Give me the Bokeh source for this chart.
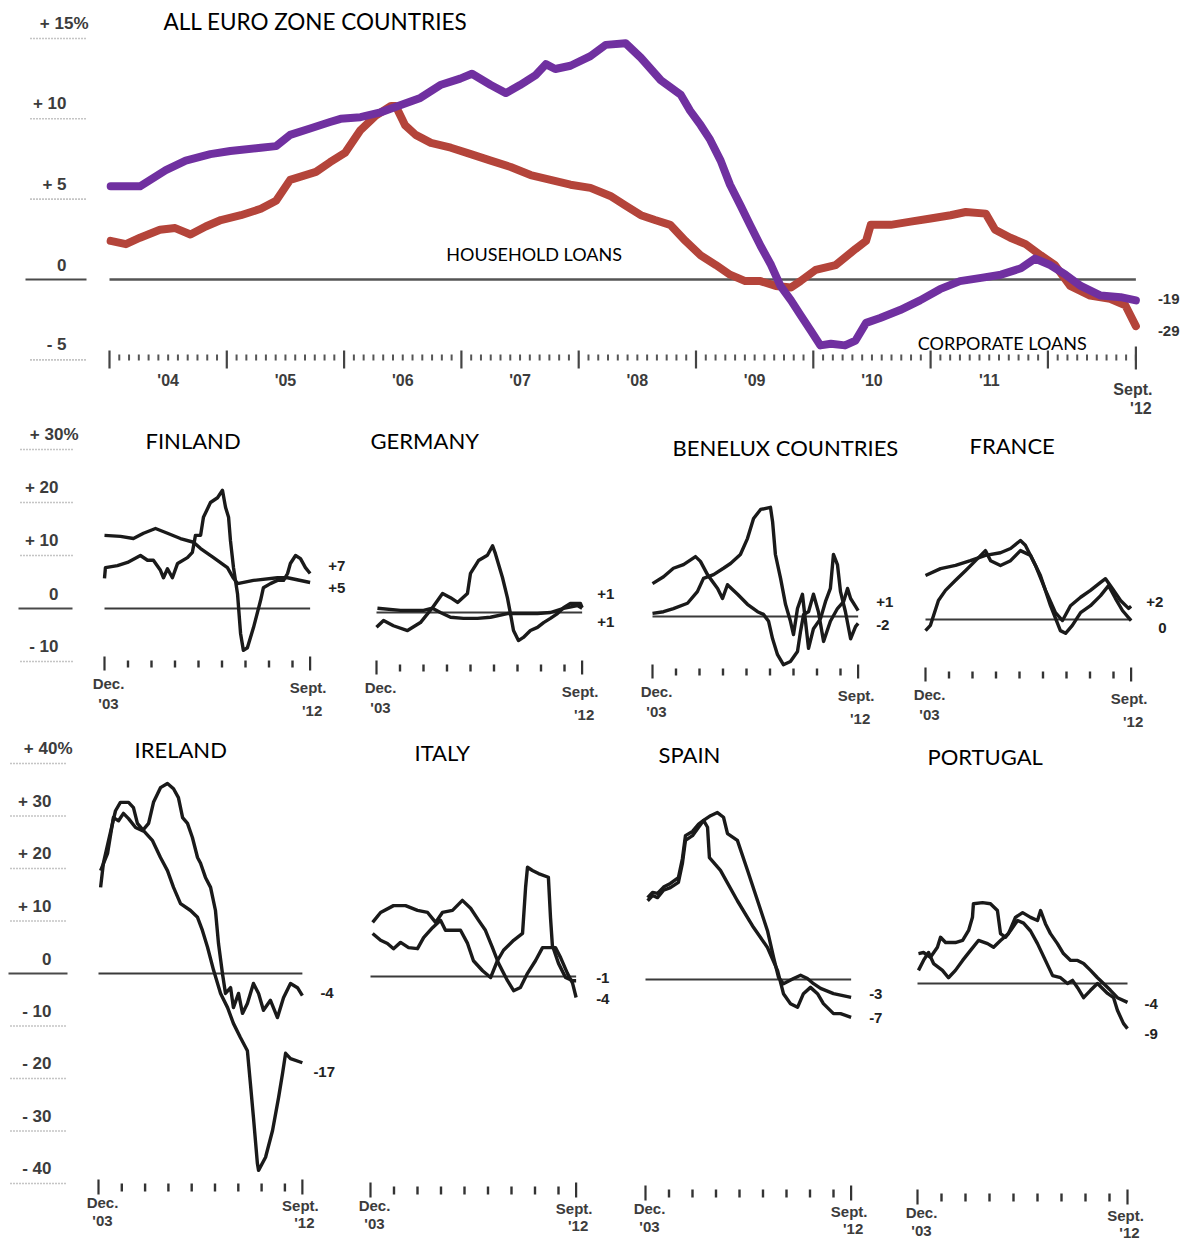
from bokeh.plotting import figure
from bokeh.layouts import column, row
from bokeh.models import Range1d
from bokeh.core.properties import value
from bokeh.embed import file_html
from bokeh.resources import INLINE

# ---------------- DATA (decimal years, % change) ----------------
EZ_CORP_T = [2004.01, 2004.26, 2004.48, 2004.65, 2004.86, 2005.03, 2005.29, 2005.42, 2005.54, 2005.71,
             2005.88, 2005.97, 2006.14, 2006.31, 2006.46, 2006.65, 2006.82, 2006.99, 2007.09, 2007.25,
             2007.38, 2007.50, 2007.63, 2007.72, 2007.80, 2007.93, 2008.10, 2008.23, 2008.40, 2008.53,
             2008.70, 2008.87, 2008.95, 2009.04, 2009.12, 2009.21, 2009.29, 2009.38, 2009.46, 2009.55,
             2009.64, 2009.72, 2009.81, 2009.89, 2009.98, 2010.06, 2010.15, 2010.27, 2010.36, 2010.45,
             2010.57, 2010.74, 2010.91, 2011.08, 2011.25, 2011.43, 2011.60, 2011.77, 2011.89, 2012.02,
             2012.15, 2012.28, 2012.45, 2012.62, 2012.75]
EZ_CORP_V = [5.8, 5.8, 6.8, 7.4, 7.8, 8.0, 8.2, 8.3, 9.0, 9.4,
             9.8, 10.0, 10.1, 10.4, 10.8, 11.3, 12.1, 12.5, 12.8, 12.1,
             11.6, 12.1, 12.7, 13.4, 13.1, 13.3, 13.9, 14.6, 14.7, 13.8,
             12.4, 11.5, 10.5, 9.6, 8.7, 7.4, 5.9, 4.6, 3.4, 2.1,
             0.9, -0.4, -1.3, -2.2, -3.2, -4.1, -4.0, -4.1, -3.8, -2.7,
             -2.4, -1.9, -1.3, -0.6, -0.1, 0.1, 0.3, 0.7, 1.3, 0.9,
             0.3, -0.4, -1.0, -1.1, -1.3]
EZ_HH_T = [2004.01, 2004.14, 2004.26, 2004.43, 2004.56, 2004.69, 2004.82, 2004.95, 2005.12, 2005.29,
           2005.42, 2005.54, 2005.63, 2005.76, 2005.88, 2006.01, 2006.14, 2006.27, 2006.40, 2006.44,
           2006.52, 2006.61, 2006.74, 2006.91, 2007.08, 2007.25, 2007.42, 2007.59, 2007.76, 2007.93,
           2008.10, 2008.27, 2008.40, 2008.53, 2008.65, 2008.78, 2008.91, 2009.04, 2009.17, 2009.29,
           2009.42, 2009.55, 2009.68, 2009.81, 2009.89, 2010.02, 2010.19, 2010.36, 2010.45, 2010.49,
           2010.66, 2010.83, 2011.00, 2011.17, 2011.30, 2011.47, 2011.55, 2011.68, 2011.81, 2011.94,
           2012.06, 2012.19, 2012.36, 2012.53, 2012.66, 2012.75]
EZ_HH_V = [2.4, 2.2, 2.6, 3.1, 3.2, 2.8, 3.3, 3.7, 4.0, 4.4,
           4.9, 6.2, 6.4, 6.7, 7.3, 7.9, 9.3, 10.2, 10.8, 10.8,
           9.6, 9.0, 8.5, 8.2, 7.8, 7.4, 7.0, 6.5, 6.2, 5.9,
           5.7, 5.2, 4.6, 4.0, 3.7, 3.4, 2.4, 1.5, 0.9, 0.3,
           -0.1, -0.1, -0.4, -0.5, -0.1, 0.6, 0.9, 1.9, 2.4, 3.4,
           3.4, 3.6, 3.8, 4.0, 4.2, 4.1, 3.1, 2.6, 2.2, 1.5,
           0.9, -0.4, -1.0, -1.2, -1.6, -2.9]
EZ_END_LABELS = ["-19", "-29"]

TOP_YTICKS = [15, 10, 5, 0, -5]
TOP_YLABELS = ["+ 15%", "+ 10", "+ 5", "0", "- 5"]
TOP_YEARS = [2004, 2005, 2006, 2007, 2008, 2009, 2010, 2011, 2012]
TOP_YEAR_LABELS = ["'04", "'05", "'06", "'07", "'08", "'09", "'10", "'11"]
TOP_END_T = 2012.75

ROW2_YTICKS = [30, 20, 10, 0, -10]
ROW2_YLABELS = ["+ 30%", "+ 20", "+ 10", "0", "- 10"]
ROW3_YTICKS = [40, 30, 20, 10, 0, -10, -20, -30, -40]
ROW3_YLABELS = ["+ 40%", "+ 30", "+ 20", "+ 10", "0", "- 10", "- 20", "- 30", "- 40"]
SMALL_START_T = 2003.92
SMALL_END_T = 2012.67

FIN_A_T = [2003.92, 2004.60, 2005.15, 2005.58, 2006.09, 2006.60, 2007.15, 2007.71, 2008.01, 2008.56,
           2009.15, 2009.41, 2009.58, 2010.26, 2011.28, 2011.71, 2012.67]
FIN_A_V = [13.8, 13.6, 13.2, 14.2, 15.1, 14.2, 13.2, 12.5, 11.3, 9.6, 7.7, 5.7, 4.7, 5.3, 5.8, 5.8, 4.9]
FIN_B_T = [2003.92, 2003.96, 2004.47, 2004.90, 2005.45, 2005.75, 2006.00, 2006.30, 2006.43, 2006.60,
           2006.81, 2007.03, 2007.45, 2007.66, 2007.79, 2008.01, 2008.13, 2008.43, 2008.73, 2008.94,
           2009.07, 2009.20, 2009.28, 2009.41, 2009.58, 2009.71, 2009.83, 2010.00, 2010.26, 2010.56,
           2010.68, 2010.98, 2011.28, 2011.54, 2011.71, 2011.83, 2012.05, 2012.26, 2012.47, 2012.67]
FIN_B_V = [5.7, 7.7, 8.1, 8.7, 10.0, 9.1, 9.1, 7.2, 5.8, 7.5,
           5.8, 8.5, 9.6, 10.6, 13.8, 13.8, 17.2, 20.0, 20.9, 22.3,
           19.1, 17.2, 12.8, 7.7, 2.8, -4.7, -7.9, -7.4, -3.6, 1.5,
           3.9, 4.7, 5.3, 5.3, 6.6, 8.5, 10.0, 9.4, 7.7, 6.6]

GER_A_T = [2003.92, 2004.22, 2004.64, 2005.24, 2005.79, 2006.30, 2006.73, 2007.07, 2007.37, 2007.79,
           2007.92, 2008.26, 2008.64, 2008.86, 2008.98, 2009.28, 2009.49, 2009.62, 2009.75, 2009.96,
           2010.17, 2010.47, 2010.77, 2011.03, 2011.32, 2011.62, 2011.88, 2012.17, 2012.60, 2012.67]
GER_A_V = [-2.8, -1.5, -2.5, -3.4, -1.9, 0.9, 3.6, 2.8, 1.9, 3.6,
           7.4, 9.8, 10.8, 12.6, 11.1, 6.6, 2.8, -0.2, -3.4, -5.3,
           -4.7, -3.4, -2.8, -1.9, -1.1, -0.2, 0.9, 1.7, 1.7, 0.9]
GER_B_T = [2003.96, 2004.94, 2005.92, 2006.30, 2006.64, 2007.07, 2007.62, 2008.22, 2008.77, 2009.49,
           2010.17, 2010.77, 2011.32, 2011.88, 2012.47, 2012.67]
GER_B_V = [0.8, 0.4, 0.4, 0.8, 0.0, -0.9, -1.1, -1.1, -0.9, -0.2, -0.2, -0.2, 0.0, 0.8, 1.3, 0.8]

BNL_A_T = [2003.92, 2004.39, 2004.81, 2005.24, 2005.75, 2005.96, 2006.26, 2006.69, 2006.90, 2007.11,
           2007.54, 2007.96, 2008.39, 2008.64, 2008.86, 2009.03, 2009.24, 2009.49, 2009.79, 2010.09,
           2010.22, 2010.35, 2010.56, 2010.77, 2010.98, 2011.20, 2011.49, 2011.79, 2012.05, 2012.22,
           2012.35, 2012.56, 2012.67]
BNL_A_V = [6.2, 7.5, 9.1, 9.8, 11.3, 10.4, 7.9, 5.3, 3.4, 6.0,
           4.2, 2.3, 0.9, 0.4, -0.9, -4.2, -7.2, -9.1, -8.5, -6.6,
           -2.8, 0.4, 0.9, 4.2, 0.9, -4.7, -0.9, 1.5, 2.8, 5.3,
           3.4, 1.9, 1.1]
BNL_B_T = [2003.92, 2004.39, 2004.81, 2005.41, 2005.83, 2006.09, 2006.52, 2006.94, 2007.24, 2007.66,
           2007.96, 2008.22, 2008.52, 2008.94, 2009.03, 2009.15, 2009.37, 2009.58, 2009.79, 2009.92,
           2010.09, 2010.30, 2010.43, 2010.56, 2010.77, 2011.07, 2011.28, 2011.49, 2011.62, 2011.79,
           2011.92, 2012.13, 2012.35, 2012.56, 2012.67]
BNL_B_V = [0.6, 0.9, 1.5, 2.5, 4.7, 7.2, 7.9, 9.1, 10.0, 11.7,
           14.7, 18.5, 20.2, 20.6, 17.9, 11.7, 7.2, 2.3, -0.9, -3.4,
           1.5, 4.2, -0.9, -6.0, -2.3, -0.4, 2.8, 5.3, 11.7, 9.8,
           4.7, 0.9, -4.2, -1.9, -1.3]

FRA_A_T = [2003.92, 2004.56, 2005.20, 2005.83, 2006.47, 2007.11, 2007.54, 2007.96, 2008.17, 2008.60,
           2009.03, 2009.45, 2009.75, 2010.09, 2010.52, 2010.94, 2011.37, 2011.58, 2011.88, 2012.22,
           2012.56, 2012.67]
FRA_A_V = [8.3, 9.6, 10.2, 11.1, 12.1, 12.6, 13.4, 14.9, 14.0, 10.2,
           5.5, 1.3, -0.2, 2.6, 4.2, 5.5, 7.0, 7.7, 5.8, 3.6, 2.1, 2.5]
FRA_B_T = [2003.92, 2004.13, 2004.47, 2004.77, 2005.20, 2005.62, 2006.05, 2006.47, 2006.69, 2007.11,
           2007.54, 2007.96, 2008.39, 2008.81, 2009.24, 2009.66, 2009.88, 2010.17, 2010.52, 2010.94,
           2011.37, 2011.71, 2012.00, 2012.30, 2012.67]
FRA_B_V = [-2.1, -1.1, 3.6, 5.5, 7.4, 9.2, 11.1, 13.0, 11.1, 10.2,
           11.1, 13.0, 12.1, 8.3, 2.6, -2.1, -2.6, -1.1, 1.3, 2.6,
           4.5, 6.4, 4.0, 1.7, -0.2]

IRL_A_T = [2004.01, 2004.13, 2004.35, 2004.65, 2004.86, 2005.21, 2005.42, 2005.59, 2005.85, 2006.24,
           2006.58, 2006.88, 2007.14, 2007.44, 2007.87, 2008.17, 2008.38, 2008.60, 2008.86, 2009.16,
           2009.46, 2009.71, 2010.01, 2010.31, 2010.44, 2010.57, 2010.74, 2010.79, 2011.09, 2011.39,
           2011.65, 2011.82, 2011.95, 2012.16, 2012.67]
IRL_A_V = [16.4, 21.0, 25.3, 31.0, 32.6, 32.6, 31.6, 28.6, 27.2, 25.3,
           22.1, 19.6, 16.4, 13.3, 12.0, 10.7, 8.2, 5.0, 0.6, -3.8,
           -6.5, -9.5, -12.2, -14.7, -21.0, -27.4, -36.2, -37.5, -35.0, -29.9,
           -23.6, -19.0, -15.2, -16.2, -17.0]
IRL_B_T = [2004.01, 2004.31, 2004.56, 2004.78, 2004.99, 2005.21, 2005.51, 2005.81, 2006.07, 2006.28,
           2006.58, 2006.88, 2007.14, 2007.35, 2007.53, 2007.74, 2007.95, 2008.17, 2008.30, 2008.51,
           2008.73, 2008.94, 2009.07, 2009.24, 2009.37, 2009.59, 2009.71, 2009.93, 2010.10, 2010.31,
           2010.57, 2010.79, 2011.00, 2011.30, 2011.60, 2011.86, 2012.16, 2012.46, 2012.67]
IRL_B_V = [19.6, 22.9, 29.7, 29.1, 30.5, 29.5, 27.8, 27.2, 28.6, 32.6,
           35.4, 36.2, 35.2, 33.5, 29.7, 28.6, 25.9, 22.1, 21.0, 18.3,
           16.4, 12.0, 5.7, 0.0, -3.8, -2.7, -6.5, -3.8, -7.6, -5.7,
           -1.9, -3.8, -7.0, -5.1, -8.4, -4.6, -1.9, -2.7, -4.2]

ITA_A_T = [2004.01, 2004.35, 2004.90, 2005.41, 2005.92, 2006.35, 2006.69, 2006.98, 2007.41, 2007.83,
           2008.18, 2008.52, 2008.81, 2009.11, 2009.37, 2009.75, 2010.01, 2010.30, 2010.60, 2010.94,
           2011.24, 2011.45, 2011.79, 2012.01, 2012.30, 2012.52, 2012.67]
ITA_A_V = [10.3, 12.2, 13.5, 13.5, 12.6, 12.2, 10.3, 12.2, 12.6, 14.5,
           13.0, 10.7, 8.8, 5.5, 2.5, -0.8, -2.7, -2.1, 0.6, 3.0,
           5.5, 5.5, 5.5, 3.6, 0.6, -1.3, -4.0]
ITA_B_T = [2004.01, 2004.35, 2004.64, 2004.90, 2005.20, 2005.54, 2005.92, 2006.18, 2006.56, 2006.90,
           2007.11, 2007.45, 2007.75, 2008.05, 2008.30, 2008.69, 2009.03, 2009.32, 2009.58, 2010.01,
           2010.39, 2010.52, 2010.60, 2010.81, 2011.07, 2011.49, 2011.58, 2011.66, 2011.92, 2012.22,
           2012.52, 2012.67]
ITA_B_V = [8.2, 6.9, 6.3, 5.3, 6.5, 5.5, 5.3, 7.4, 9.3, 10.7,
           8.8, 8.8, 8.8, 6.3, 3.0, 1.1, -0.2, 3.0, 5.0, 6.9,
           8.2, 17.0, 20.8, 20.2, 19.6, 18.9, 11.2, 5.9, 2.5, -0.2,
           -0.8, -0.8]

ESP_A_T = [2004.01, 2004.22, 2004.43, 2004.69, 2004.98, 2005.32, 2005.49, 2005.62, 2005.92, 2006.18,
           2006.39, 2006.56, 2006.64, 2007.11, 2007.83, 2008.52, 2009.11, 2009.54, 2009.79, 2010.09,
           2010.39, 2010.64, 2010.94, 2011.24, 2011.49, 2011.92, 2012.22, 2012.67]
ESP_A_V = [15.0, 16.0, 15.6, 17.0, 17.5, 18.5, 22.1, 26.5, 27.4, 29.0,
           30.3, 29.0, 23.2, 20.8, 15.0, 9.9, 6.1, 1.7, -2.7, -4.6,
           -5.3, -2.7, -1.5, -2.7, -4.6, -6.5, -6.5, -7.2]
ESP_B_T = [2004.01, 2004.22, 2004.43, 2004.69, 2004.98, 2005.32, 2005.49, 2005.62, 2005.92, 2006.18,
           2006.39, 2006.69, 2006.98, 2007.24, 2007.41, 2007.83, 2008.26, 2008.69, 2009.11, 2009.37,
           2009.58, 2009.79, 2010.22, 2010.52, 2010.81, 2011.07, 2011.37, 2011.92, 2012.67]
ESP_B_V = [15.6, 16.6, 16.4, 17.6, 18.3, 19.4, 23.0, 27.4, 28.2, 29.6,
           30.3, 31.2, 31.8, 30.9, 27.8, 26.5, 20.8, 15.0, 9.3, 4.2,
           0.4, -0.8, 0.2, 0.8, 0.2, -0.8, -1.7, -2.7, -3.4]

POR_A_T = [2003.96, 2004.17, 2004.46, 2004.75, 2004.88, 2005.09, 2005.50, 2005.80, 2006.05, 2006.21,
           2006.25, 2006.63, 2006.96, 2007.25, 2007.38, 2007.59, 2007.80, 2008.09, 2008.34, 2008.63,
           2008.92, 2009.25, 2009.55, 2009.88, 2010.17, 2010.38, 2010.59, 2010.84, 2011.13, 2011.42,
           2011.84, 2012.09, 2012.25, 2012.50, 2012.67]
POR_A_V = [5.7, 5.9, 5.0, 6.9, 8.8, 7.8, 7.8, 8.2, 10.1, 12.6,
           15.2, 15.4, 15.2, 13.9, 9.5, 8.8, 10.1, 12.0, 11.5, 10.0,
           7.6, 4.4, 1.5, 1.1, 0.0, 0.6, -0.8, -2.7, -1.3, 0.0,
           -1.9, -2.7, -5.1, -7.6, -8.6]
POR_B_T = [2003.96, 2004.17, 2004.38, 2004.59, 2004.96, 2005.21, 2005.50, 2005.80, 2006.13, 2006.46,
           2006.84, 2007.09, 2007.38, 2007.71, 2008.00, 2008.30, 2008.63, 2008.92, 2009.05, 2009.25,
           2009.46, 2009.75, 2010.00, 2010.30, 2010.59, 2010.84, 2011.13, 2011.42, 2011.67, 2011.96,
           2012.25, 2012.67]
POR_B_V = [2.5, 4.4, 5.9, 3.8, 2.5, 1.1, 2.5, 4.4, 6.3, 8.2,
           7.6, 6.9, 8.2, 9.5, 12.6, 13.5, 12.6, 12.0, 13.9, 11.4,
           9.5, 7.6, 5.7, 4.4, 4.4, 3.8, 2.5, 1.1, 0.0, -1.3,
           -2.7, -3.6]

COUNTRY_NAMES = ["FINLAND", "GERMANY", "BENELUX COUNTRIES", "FRANCE",
                 "IRELAND", "ITALY", "SPAIN", "PORTUGAL"]
END_LABELS = [("+5", "+7"), ("+1", "+1"), ("+1", "-2"), ("+2", "0"),
              ("-17", "-4"), ("-4", "-1"), ("-7", "-3"), ("-9", "-4")]

# ---------------- STYLE / LAYOUT ----------------
TITLE_FONT = "Lato"
LABEL_FONT = "Liberation Sans"
PURPLE = "#7030a0"
RED = "#b4443a"
INK = "#1a1a1a"
LBL = "#3c3c3c"


class Panel:
    def __init__(self, L, W, top, H, x0, t0, ppy, zero, ppu):
        self.L, self.ppy, self.zero, self.ppu = L, ppy, zero, ppu
        self.xs = t0 - (x0 - L) / ppy
        xe = self.xs + W / ppy
        yt = (zero - top) / ppu
        yb = (zero - top - H) / ppu
        p = figure(width=W, height=H, x_range=Range1d(self.xs, xe), y_range=Range1d(yb, yt),
                   title=None, output_backend="svg", toolbar_location=None,
                   x_axis_location=None, y_axis_location=None, min_border=0,
                   outline_line_color=None, background_fill_color="white",
                   border_fill_color="white")
        p.grid.visible = False
        self.p = p

    def X(self, px):
        return self.xs + (px - self.L) / self.ppy

    def Y(self, py):
        return (self.zero - py) / self.ppu

    def dx(self, px):
        return px / self.ppy

    def dy(self, px):  # px downward on screen
        return -px / self.ppu

    def text(self, xs, ys, texts, size, font=LABEL_FONT, color=LBL, align="left",
             baseline="middle", bold=False):
        self.p.text(x=xs, y=ys, text=texts, text_font=value(font), text_font_size=size,
                    text_color=color, text_align=align, text_baseline=baseline,
                    text_font_style="bold" if bold else "normal")


def y_labels(pn, ticks, labels, right_px, pct_extra, line_x0, line_x1, zero_x0):
    xs = [pn.X(right_px + (pct_extra if "%" in lab else 0)) for lab in labels]
    ys = [t - pn.dy(15) for t in ticks]
    pn.text(xs, ys, labels, "17px", align="right", bold=True)
    nz = [t for t in ticks if t != 0]
    pn.p.segment(x0=[pn.X(line_x0)] * len(nz), y0=nz, x1=[pn.X(line_x1)] * len(nz), y1=nz,
                 line_color="#8a8a8a", line_width=1.6, line_dash="1 2")
    pn.p.segment(x0=[pn.X(zero_x0)], y0=[0], x1=[pn.X(line_x1)], y1=[0],
                 line_color="#4a4a4a", line_width=2)


# ---------------- TOP PANEL ----------------
top = Panel(L=0, W=1196, top=0, H=425, x0=109, t0=2004.0, ppy=117.3, zero=279, ppu=16.07)
tp = top.p
y_labels(top, TOP_YTICKS, TOP_YLABELS, right_px=66, pct_extra=22, line_x0=30, line_x1=86, zero_x0=25)
tp.segment(x0=[TOP_YEARS[0]], y0=[0], x1=[TOP_END_T], y1=[0], line_color="#555555", line_width=2.5)
tp.line(EZ_HH_T, EZ_HH_V, line_color=RED, line_width=8, line_join="round", line_cap="round")
tp.line(EZ_CORP_T, EZ_CORP_V, line_color=PURPLE, line_width=8, line_join="round", line_cap="round")

# axis ticks
months = [TOP_YEARS[0] + m / 12 for m in range(int((TOP_END_T - TOP_YEARS[0]) * 12) + 1)]
minor = [m for m in months if abs(m - round(m)) > 1e-6]
tp.segment(x0=minor, y0=[top.Y(354)] * len(minor), x1=minor, y1=[top.Y(360)] * len(minor),
           line_color="#555555", line_width=2)
tp.segment(x0=TOP_YEARS, y0=[top.Y(350)] * len(TOP_YEARS), x1=TOP_YEARS, y1=[top.Y(368)] * len(TOP_YEARS),
           line_color="#444444", line_width=2.2)
tp.segment(x0=[TOP_END_T], y0=[top.Y(346)], x1=[TOP_END_T], y1=[top.Y(369)], line_color="#444444", line_width=2.2)
mid = [y + 0.5 for y in TOP_YEARS[:-1]]
top.text(mid, [top.Y(380)] * len(mid), TOP_YEAR_LABELS, "16px", align="center", bold=True)
top.text([TOP_END_T - top.dx(3)], [top.Y(389)], ["Sept."], "16px", align="center", bold=True)
top.text([TOP_END_T + top.dx(5)], [top.Y(408)], ["'12"], "16px", align="center", bold=True)

# end labels
top.text([TOP_END_T + top.dx(22)] * 2,
         [EZ_CORP_V[-1] + top.dy(-1), EZ_HH_V[-1] + top.dy(5)],
         EZ_END_LABELS, "15px", bold=True, color="#333333")

# titles
top.text([top.X(163)], [top.Y(21)], ["ALL EURO ZONE COUNTRIES"], "22.5px", font=TITLE_FONT, color="black")
top.text([top.X(536)], [top.Y(253)], ["HOUSEHOLD  LOANS"], "18px", font=TITLE_FONT, color="black", align="center")
top.text([top.X(1004)], [top.Y(342)], ["CORPORATE  LOANS"], "18px", font=TITLE_FONT, color="black", align="center")

# ---------------- SMALL PANELS ----------------
ROW2 = dict(top=425, H=305, ppu=5.3, major=(48, 62), minor=(52, 59), dec=(75, 95), sep=(79, 102))
ROW3 = dict(top=730, H=511, ppu=5.25, major=(206, 221), minor=(210, 218), dec=(229, 247), sep=(232, 249))

GEOM = [  # L, W, x0, ppy, zero, title(x, y), end-label (dxA, dyA, dxB, dyB)
    (0, 360, 104, 23.5, 608, (145, 440), (18, 5, 18, -8)),
    (360, 276, 376, 23.5, 612, (370, 440), (15, -14, 15, 14)),
    (636, 274, 652, 23.5, 616, (672, 447), (18, -9, 18, 2)),
    (910, 286, 925, 23.5, 619, (969, 445), (15, -4, 27, 7)),
    (0, 355, 98, 23.3, 973, (134, 749), (11, 9, 18, -3)),
    (355, 275, 370, 23.5, 976, (414, 752), (20, 1, 20, -3)),
    (630, 270, 645, 23.5, 979, (658, 754), (18, 1, 18, -3)),
    (900, 296, 917, 24.0, 983, (927, 756), (17, 5, 17, 2)),
]
SERIES = [
    (FIN_A_T, FIN_A_V, FIN_B_T, FIN_B_V),
    (GER_A_T, GER_A_V, GER_B_T, GER_B_V),
    (BNL_A_T, BNL_A_V, BNL_B_T, BNL_B_V),
    (FRA_A_T, FRA_A_V, FRA_B_T, FRA_B_V),
    (IRL_A_T, IRL_A_V, IRL_B_T, IRL_B_V),
    (ITA_A_T, ITA_A_V, ITA_B_T, ITA_B_V),
    (ESP_A_T, ESP_A_V, ESP_B_T, ESP_B_V),
    (POR_A_T, POR_A_V, POR_B_T, POR_B_V),
]

panels = []
for i, (geom, ser, name, ends) in enumerate(zip(GEOM, SERIES, COUNTRY_NAMES, END_LABELS)):
    L, W, x0, ppy, zero, (tx, ty), (dxa, dya, dxb, dyb) = geom
    rc = ROW2 if i < 4 else ROW3
    pn = Panel(L=L, W=W, top=rc["top"], H=rc["H"], x0=x0, t0=SMALL_START_T, ppy=ppy, zero=zero, ppu=rc["ppu"])
    p = pn.p
    if i == 0:
        y_labels(pn, ROW2_YTICKS, ROW2_YLABELS, right_px=58, pct_extra=20, line_x0=20, line_x1=72, zero_x0=18)
    if i == 4:
        y_labels(pn, ROW3_YTICKS, ROW3_YLABELS, right_px=51, pct_extra=21, line_x0=10, line_x1=67, zero_x0=8)
    # zero line
    p.segment(x0=[SMALL_START_T], y0=[0], x1=[SMALL_END_T], y1=[0], line_color="#3a3a3a", line_width=2)
    ta, va, tb, vb = ser
    p.line(ta, va, line_color=INK, line_width=3.4, line_join="round")
    p.line(tb, vb, line_color=INK, line_width=3.4, line_join="round")
    # ticks
    ticks = [SMALL_START_T + k for k in range(9)] + [SMALL_END_T]
    inner = ticks[1:-1]
    p.segment(x0=inner, y0=[pn.dy(rc["minor"][0])] * len(inner), x1=inner, y1=[pn.dy(rc["minor"][1])] * len(inner),
              line_color="#333333", line_width=2.4)
    ends_t = [ticks[0], ticks[-1]]
    p.segment(x0=ends_t, y0=[pn.dy(rc["major"][0])] * 2, x1=ends_t, y1=[pn.dy(rc["major"][1])] * 2,
              line_color="#333333", line_width=2.2)
    pn.text([SMALL_START_T + pn.dx(4)] * 2, [pn.dy(rc["dec"][0]), pn.dy(rc["dec"][1])],
            ["Dec.", "'03"], "15px", align="center", bold=True)
    pn.text([SMALL_END_T - pn.dx(2), SMALL_END_T + pn.dx(2)], [pn.dy(rc["sep"][0]), pn.dy(rc["sep"][1])],
            ["Sept.", "'12"], "15px", align="center", bold=True)
    # end labels
    pn.text([ta[-1] + pn.dx(dxa), tb[-1] + pn.dx(dxb)],
            [va[-1] + pn.dy(dya), vb[-1] + pn.dy(dyb)],
            list(ends), "15px", bold=True, color="#222222")
    # title
    pn.text([pn.X(tx)], [pn.Y(ty)], [name], "22px", font=TITLE_FONT, color="black")
    panels.append(p)

layout = column(tp, row(*panels[:4]), row(*panels[4:]))
open("out.html", "w").write(file_html(layout, INLINE))
